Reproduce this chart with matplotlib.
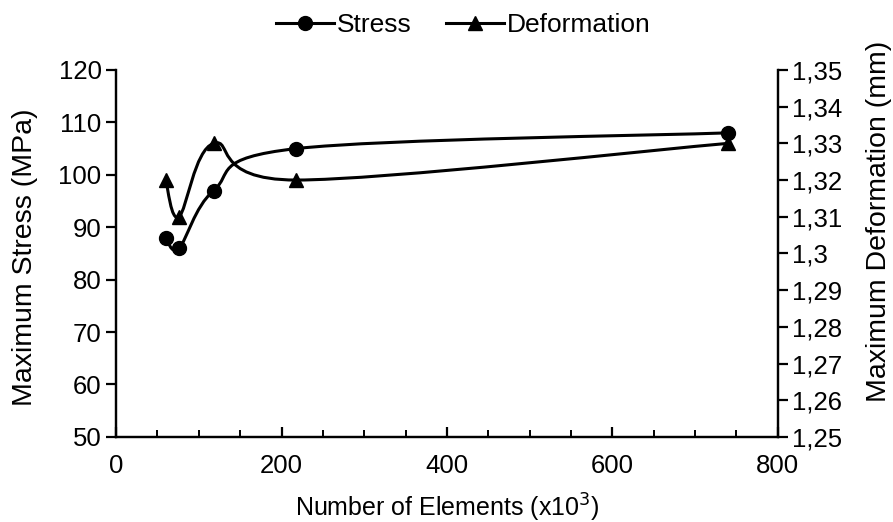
import numpy as np
import matplotlib
matplotlib.use('Agg')
import matplotlib.pyplot as plt
from matplotlib.path import Path
from matplotlib.patches import PathPatch
from matplotlib.lines import Line2D
from matplotlib.transforms import IdentityTransform
from matplotlib.ticker import MultipleLocator, FuncFormatter

plt.rcParams['font.family'] = ['Liberation Sans', 'DejaVu Sans']

# data
elements = [60, 76, 118, 218, 740]           # x10^3
stress = [88, 86, 97, 105, 108]              # MPa
deformation = [1.32, 1.31, 1.33, 1.32, 1.33]  # mm


def smooth_path(ax, xs, ys):
    # Excel-style smoothed line: cubic Bezier through points (screen space)
    pts = ax.transData.transform(np.column_stack([xs, ys]))
    n = len(pts)
    verts = [pts[0]]
    codes = [Path.MOVETO]
    for i in range(n - 1):
        p0 = pts[i - 1] if i > 0 else pts[i]
        p1, p2 = pts[i], pts[i + 1]
        p3 = pts[i + 2] if i + 2 < n else pts[i + 1]
        c1 = p1 + (p2 - p0) / 6
        c2 = p2 - (p3 - p1) / 6
        verts += [c1, c2, p2]
        codes += [Path.CURVE4] * 3
    return PathPatch(Path(verts, codes), transform=IdentityTransform(),
                     fill=False, lw=2.2, color='black', clip_on=False)


fig = plt.figure(figsize=(8.93, 5.22), dpi=100)
ax = fig.add_axes([0.130, 0.163, 0.741, 0.703])
ax2 = ax.twinx()

ax.set_xlim(0, 800)
ax.set_ylim(50, 120)
ax2.set_ylim(1.25, 1.35)

ax.add_patch(smooth_path(ax, elements, stress))
ax2.add_patch(smooth_path(ax2, elements, deformation))
ax.plot(elements, stress, 'o', color='black', ms=10, clip_on=False)
ax2.plot(elements, deformation, '^', color='black', ms=10, clip_on=False)

for a in (ax, ax2):
    a.spines['top'].set_visible(False)
    for s in a.spines.values():
        s.set_linewidth(1.6)

ax.yaxis.set_major_locator(MultipleLocator(10))
ax.xaxis.set_major_locator(MultipleLocator(200))
ax.xaxis.set_minor_locator(MultipleLocator(50))
ax.tick_params(axis='y', direction='out', length=7, width=1.6, labelsize=18.5)
ax.tick_params(axis='x', which='major', direction='in', length=7, width=1.6,
               labelsize=18.5, pad=12)
ax.tick_params(axis='x', which='minor', direction='in', length=5, width=1.4)

ax2.yaxis.set_major_locator(MultipleLocator(0.01))
ax2.yaxis.set_major_formatter(FuncFormatter(
    lambda v, p: f"{round(v, 2):g}".replace('.', ',')))
ax2.tick_params(axis='y', direction='out', length=7, width=1.6, labelsize=18.5)

ax.set_xlabel("Number of Elements (x10$^{3}$)", fontsize=18, labelpad=10)
fig.text(0.028, 0.508, "Maximum Stress (MPa)", rotation=90, fontsize=20.5,
         ha='center', va='center')
fig.text(0.984, 0.575, "Maximum Deformation (mm)", rotation=90, fontsize=20.5,
         ha='center', va='center')

handles = [Line2D([], [], color='black', lw=2.2, marker='o', ms=10),
           Line2D([], [], color='black', lw=2.2, marker='^', ms=10)]
fig.legend(handles, ["Stress", "Deformation"], loc='upper center',
           bbox_to_anchor=(0.519, 1.02), ncol=2, frameon=False, fontsize=19,
           handlelength=2.2, handletextpad=0.1, columnspacing=1.3)

fig.savefig("out.png", dpi=100)
